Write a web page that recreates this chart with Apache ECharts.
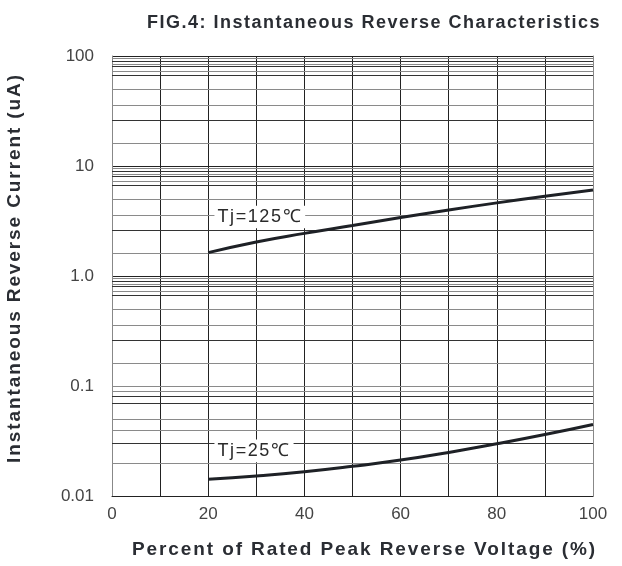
<!DOCTYPE html>
<html>
<head>
<meta charset="utf-8">
<script src="https://cdn.jsdelivr.net/npm/echarts@6/dist/echarts.min.js"></script>
<style>html,body{margin:0;padding:0;background:#fff}#c{width:622px;height:566px}</style>
</head>
<body>
<div id="c"></div>
<script>
// ---- data ----
var xValues = [20, 30, 40, 50, 60, 70, 80, 90, 100];
var tj125 = [1.63, 2.04, 2.44, 2.88, 3.40, 3.98, 4.62, 5.32, 6.05];
var tj25 = [0.0142, 0.0152, 0.0166, 0.0186, 0.0212, 0.0249, 0.0298, 0.0362, 0.0447];
var xTickLabels = ['0', '20', '40', '60', '80', '100'];
var yTickLabels = ['0.01', '0.1', '1.0', '10', '100'];
var decadeBases = [0.01, 0.1, 1, 10];
var minorGridMultipliers = [9.5, 9, 8.5, 8, 7.3, 6.7, 5, 3.6, 2.6, 1.6];
var seriesNames = ['Tj=125℃', 'Tj=25℃'];
var labelAnchors = [[21.3, 3.44], [21.3, 0.0257]];

// letter spacing (tracking) for the wide-set label fonts, keyed by a marker family name
(function () {
  var P = CanvasRenderingContext2D.prototype;
  function sp(ctx) {
    var f = ctx.font || '', s = '0px';
    if (f.indexOf('trkA') >= 0) s = '1.9px';
    else if (f.indexOf('trkT') >= 0) s = '1.5px';
    else if (f.indexOf('trkB') >= 0) s = '1.6px';
    try { ctx.letterSpacing = s; } catch (e) {}
  }
  var ft = P.fillText; P.fillText = function () { sp(this); return ft.apply(this, arguments); };
  var mt = P.measureText; P.measureText = function () { sp(this); return mt.apply(this, arguments); };
})();

var narrow = "'Liberation Sans Narrow', 'Arial Narrow', 'Liberation Sans', sans-serif";
var boldA = "'Liberation Sans', 'trkA', sans-serif";
var boldT = "'Liberation Sans', 'trkT', sans-serif";
var labelF = "'Liberation Sans', 'trkB', sans-serif";
var minorColors = ['#8a8a8a', '#333', '#8a8a8a', '#333', '#8a8a8a', '#333', '#8a8a8a', '#8a8a8a', '#333', '#8a8a8a'];

var minorLines = [];
decadeBases.forEach(function (b) {
  minorGridMultipliers.forEach(function (m, i) {
    minorLines.push({ yAxis: b * m, lineStyle: { color: minorColors[i], width: 1, type: 'solid' } });
  });
});

function pairs(ys) { return xValues.map(function (x, i) { return [x, ys[i]]; }); }

function curve(name, ys, anchor) {
  return {
    name: name, type: 'line', data: pairs(ys), smooth: 0.5, showSymbol: false, z: 5,
    lineStyle: { color: '#1e2126', width: 3 },
    markPoint: {
      silent: true, symbol: 'rect', symbolSize: 0,
      data: [{ coord: anchor, value: name }],
      label: {
        show: true, position: 'right', distance: 0, formatter: name,
        color: '#2a2a2a', fontSize: 18, fontFamily: labelF,
        backgroundColor: '#fff', padding: [2, 3, 1, 3]
      }
    }
  };
}

var chart = echarts.init(document.getElementById('c'), null, { renderer: 'canvas' });
chart.setOption({
  animation: false,
  backgroundColor: '#fff',
  title: {
    text: 'FIG.4: Instantaneous Reverse Characteristics',
    left: 369, top: 8, textAlign: 'center',
    textStyle: { fontFamily: boldT, fontWeight: 'bold', fontSize: 18, color: '#2a2d33' }
  },
  grid: { left: 112, right: 29, top: 56, bottom: 70, containLabel: false, outerBoundsMode: 'none' },
  xAxis: {
    type: 'value', min: 0, max: 100, interval: 10,
    name: 'Percent of Rated Peak Reverse Voltage (%)',
    nameLocation: 'middle', nameGap: 43,
    nameTextStyle: { fontFamily: boldA, fontWeight: 'bold', fontSize: 19, color: '#2a2d33', padding: [0, 0, 0, 24] },
    axisLine: { show: true, lineStyle: { color: '#222', width: 1 } },
    axisTick: { show: false },
    axisLabel: {
      margin: 10, fontFamily: narrow, fontSize: 17, color: '#444',
      formatter: function (v) { var i = xTickLabels.indexOf(String(v)); return i >= 0 ? xTickLabels[i] : ''; }
    },
    splitLine: { show: true, showMinLine: false, showMaxLine: false, lineStyle: { color: '#222', width: 1 } }
  },
  yAxis: [{
    type: 'log', logBase: 10, min: 0.01, max: 100,
    name: 'Instantaneous Reverse Current (uA)',
    nameLocation: 'middle', nameGap: 87, nameRotate: 90,
    nameTextStyle: { fontFamily: boldA, fontWeight: 'bold', fontSize: 19, color: '#2a2d33', padding: [0, 0, 0, 16] },
    axisLine: { show: true, lineStyle: { color: '#888', width: 1 } },
    axisTick: { show: false },
    axisLabel: {
      margin: 18, fontFamily: narrow, fontSize: 17, color: '#444', padding: [0, 0, 6, 0],
      formatter: function (v, idx) { return yTickLabels[idx]; }
    },
    splitLine: { show: true, lineStyle: { color: '#222', width: 1 } }
  }, {
    type: 'log', logBase: 10, min: 0.01, max: 100, position: 'right',
    axisLine: { show: true, lineStyle: { color: '#888', width: 1 } },
    axisTick: { show: false }, axisLabel: { show: false }, splitLine: { show: false }
  }],
  series: [
    {
      type: 'line', data: [], z: 1, silent: true,
      markLine: { silent: true, symbol: ['none', 'none'], label: { show: false }, data: minorLines, animation: false }
    },
    curve(seriesNames[0], tj125, labelAnchors[0]),
    curve(seriesNames[1], tj25, labelAnchors[1])
  ]
});
</script>
</body>
</html>
